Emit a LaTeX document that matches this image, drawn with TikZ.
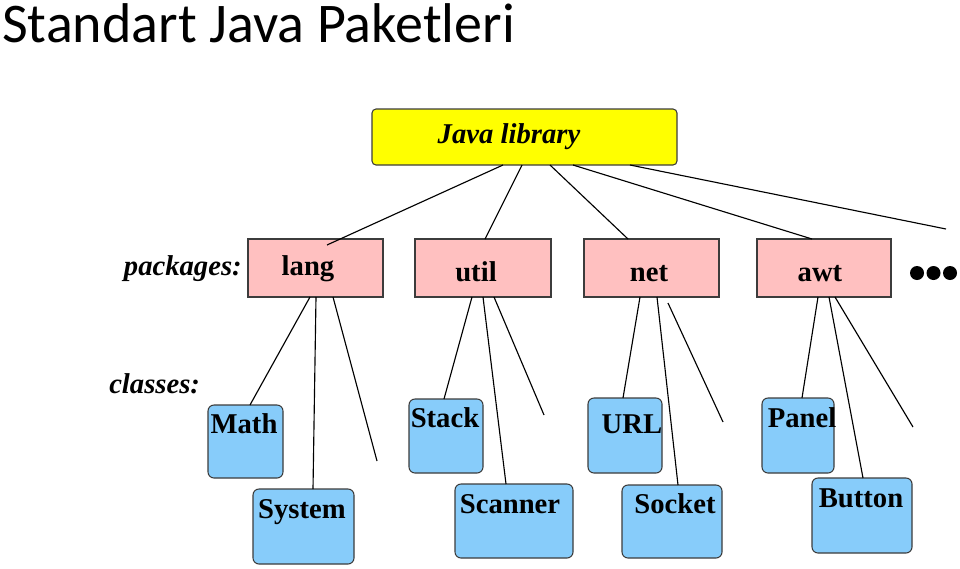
\documentclass[tikz,border=0pt]{standalone}
\usepackage{fontspec}
\setmainfont{Liberation Serif}
\newfontfamily\titlefont{Carlito}
\definecolor{pkgpink}{RGB}{255,192,192}
\definecolor{clsblue}{RGB}{135,204,250}
\definecolor{libyellow}{RGB}{255,255,0}
\definecolor{edge}{RGB}{60,60,60}
\begin{document}
\begin{tikzpicture}[x=0.75pt,y=-0.75pt,
  box/.style={draw=edge, line width=0.8pt, inner sep=0pt, outer sep=0pt},
  libbox/.style={box, fill=libyellow, rounded corners=3pt},
  pkgbox/.style={box, fill=pkgpink},
  clsbox/.style={box, fill=clsblue, rounded corners=4.5pt},
  lbl/.style={anchor=base, inner sep=0pt, font=\fontsize{21.5}{24}\selectfont\bfseries},
  ilbl/.style={lbl, font=\fontsize{21.5}{24}\selectfont\bfseries\itshape},
  conn/.style={draw=black, line width=0.85pt},
  dot/.style={circle, fill=black, inner sep=0pt, minimum size=10.5pt}]
\useasboundingbox (0,0) rectangle (960,568);

% title
\node[anchor=base west, inner sep=0pt, font=\titlefont\fontsize{42}{48}\selectfont] (title) at (2,42) {Standart Java Paketleri};

% library
\node[libbox, minimum width=228.75pt, minimum height=42pt] (lib) at (524.5,137) {};
\node[ilbl] (libT) at (509,143) {Java library};

% packages
\node[ilbl, anchor=base east] (pkgs) at (242,275) {packages:};
\node[pkgbox, minimum width=101.25pt, minimum height=43.5pt] (lang) at (315.5,268) {};
\node[pkgbox, minimum width=102pt, minimum height=43.5pt] (util) at (483,268) {};
\node[pkgbox, minimum width=101.25pt, minimum height=43.5pt] (net) at (651.5,268) {};
\node[pkgbox, minimum width=100.5pt, minimum height=43.5pt] (awt) at (824,268) {};
\node[lbl] (langT) at (308,275) {lang};
\node[lbl] (utilT) at (476,281) {util};
\node[lbl] (netT) at (649,281) {net};
\node[lbl] (awtT) at (820,281) {awt};
\node[dot] (d1) at (917,273) {};
\node[dot] (d2) at (933.5,273) {};
\node[dot] (d3) at (950,273) {};

% classes
\node[ilbl, anchor=base west] (clss) at (109,393) {classes:};
\node[clsbox, minimum width=56.25pt, minimum height=54.75pt] (math) at (245.5,441.5) {};
\node[clsbox, minimum width=75.75pt, minimum height=56.25pt] (system) at (303.5,526.5) {};
\node[clsbox, minimum width=55.5pt, minimum height=55.5pt] (stack) at (446,436) {};
\node[clsbox, minimum width=88.5pt, minimum height=55.5pt] (scanner) at (514,521) {};
\node[clsbox, minimum width=55.5pt, minimum height=56.25pt] (url) at (625,435.5) {};
\node[clsbox, minimum width=75pt, minimum height=54.75pt] (socket) at (672,521.5) {};
\node[clsbox, minimum width=54pt, minimum height=56.25pt] (panel) at (798,435.5) {};
\node[clsbox, minimum width=75pt, minimum height=56.25pt] (button) at (862,515.5) {};
\node[lbl] (mathT) at (244,433) {Math};
\node[lbl] (systemT) at (302,518) {System};
\node[lbl] (stackT) at (445,427) {Stack};
\node[lbl] (scannerT) at (510,513) {Scanner};
\node[lbl] (urlT) at (632,433) {URL};
\node[lbl] (socketT) at (675,513) {Socket};
\node[lbl] (panelT) at (802,427) {Panel};
\node[lbl] (buttonT) at (861,507) {Button};

% free ends
\coordinate (langin) at (327,245);
\coordinate (dotsend) at (946,229);
\coordinate (langfree) at (377,461);
\coordinate (utilfree) at (544,415);
\coordinate (netfreeA) at (668,303);
\coordinate (netfreeB) at (723,422);
\coordinate (awtfree) at (913,427);

% library to packages
\draw[conn] (503,0 |- lib.south) -- (langin);
\draw[conn] (522,0 |- lib.south) -- (485,0 |- util.north);
\draw[conn] (550,0 |- lib.south) -- (628,0 |- net.north);
\draw[conn] (573,0 |- lib.south) -- (812,0 |- awt.north);
\draw[conn] (630,0 |- lib.south) -- (dotsend);

% packages to classes
\draw[conn] (310,0 |- lang.south) -- (250,0 |- math.north);
\draw[conn] (316,0 |- lang.south) -- (313,0 |- system.north);
\draw[conn] (333,0 |- lang.south) -- (langfree);
\draw[conn] (472,0 |- util.south) -- (444,0 |- stack.north);
\draw[conn] (483,0 |- util.south) -- (506,0 |- scanner.north);
\draw[conn] (494,0 |- util.south) -- (utilfree);
\draw[conn] (640,0 |- net.south) -- (623,0 |- url.north);
\draw[conn] (657,0 |- net.south) -- (678,0 |- socket.north);
\draw[conn] (netfreeA) -- (netfreeB);
\draw[conn] (818,0 |- awt.south) -- (802,0 |- panel.north);
\draw[conn] (829,0 |- awt.south) -- (863,0 |- button.north);
\draw[conn] (835,0 |- awt.south) -- (awtfree);
\end{tikzpicture}
\end{document}
